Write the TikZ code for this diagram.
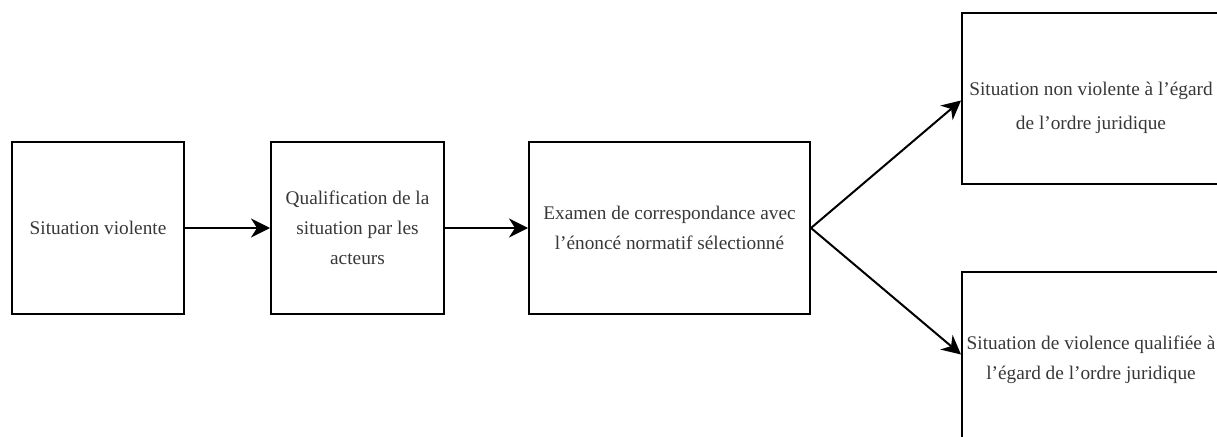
\documentclass[tikz,border=0pt]{standalone}
\usepackage{fontspec}
\setmainfont{Liberation Serif}
\usetikzlibrary{arrows.meta,calc}
\begin{document}
\begin{tikzpicture}[x=1pt,y=-1pt,
  boxnode/.style={draw=black,line width=2pt,fill=white,rectangle,anchor=north west,inner sep=0pt,align=center,
    font=\fontsize{19.3}{30}\selectfont,text=black!78},
  conn/.style={line width=2pt,-{Stealth[length=19pt,width=19pt,inset=6pt]}}]
\useasboundingbox (0,0) rectangle (1217,436);
\clip (0,0) rectangle (1217,436);
\node[boxnode,minimum width=172pt,minimum height=172pt] (b1) at (11,141) {Situation violente};
\node[boxnode,minimum width=173pt,minimum height=172pt] (b2) at (270,141) {Qualification de la\\situation par les\\acteurs};
\node[boxnode,minimum width=281pt,minimum height=172pt] (b3) at (528,141) {Examen de correspondance avec\\l’énoncé normatif sélectionné};
\node[boxnode,minimum width=258pt,minimum height=171pt] (b4) at (961,12) {\rule{0pt}{32pt}Situation non violente à l’égard\\[4pt]de l’ordre juridique};
\node[boxnode,minimum width=258pt,minimum height=171pt] (b5) at (961,271) {\rule{0pt}{18pt}Situation de violence qualifiée à\\l’égard de l’ordre juridique};
\draw[conn] (b1.east) -- (b2.west);
\draw[conn] (b2.east) -- (b3.west);
\draw[conn] (b3.east) -- ($(b4.west)+(0,2)$);
\draw[conn] (b3.east) -- ($(b5.west)+(0,-3)$);
\end{tikzpicture}
\end{document}
